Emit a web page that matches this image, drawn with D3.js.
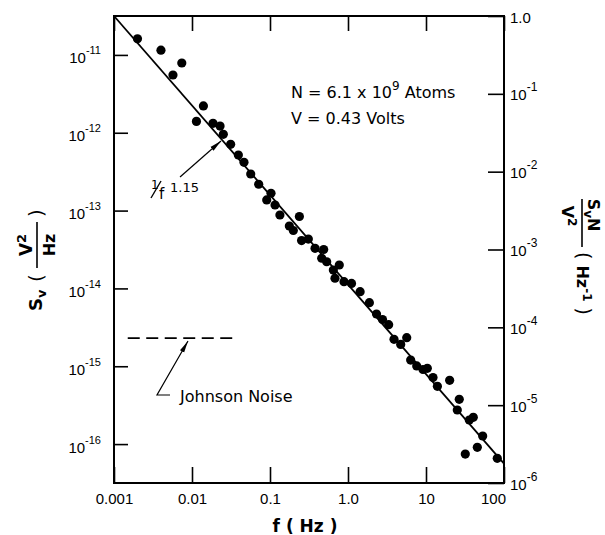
<!DOCTYPE html>
<html lang="en">
<head>
<meta charset="UTF-8">
<title>Sv vs f</title>
<script src="https://cdn.jsdelivr.net/npm/d3@7"></script>
<style>
  body { margin: 0; background: #fff; }
  svg { font-family: "DejaVu Sans", "Liberation Sans", sans-serif; }
  .axis path { display: none; }
  .axis line { stroke: #000; stroke-width: 1.6; }
  .axis text { fill: #000; }
  .lbl { fill: #000; }
</style>
</head>
<body>
<script>
// measured points: frequency (Hz) and S_V (V^2/Hz)
var freq = [0.0020, 0.0040, 0.0074, 0.0057, 0.0140, 0.0114, 0.0186, 0.0229, 0.0252, 0.0313,
            0.0393, 0.0464, 0.0566, 0.0716, 0.103, 0.0908, 0.116, 0.134, 0.238, 0.177,
            0.199, 0.254, 0.310, 0.378, 0.488, 0.460, 0.533, 0.773, 0.649, 0.681,
            0.889, 1.11, 1.43, 1.88, 2.32, 2.77, 3.32, 3.89, 5.66, 4.74,
            6.36, 7.60, 9.16, 10.4, 12.3, 14.0, 20.1, 26.7, 25.2, 35.9,
            40.4, 53.3, 45.5, 31.9, 82.0];
var sv = [1.61e-11, 1.15e-11, 7.87e-12, 5.52e-12, 2.21e-12, 1.40e-12, 1.32e-12, 1.22e-12, 9.55e-13, 7.11e-13,
          5.18e-13, 4.17e-13, 2.95e-13, 2.18e-13, 1.67e-13, 1.37e-13, 1.18e-13, 8.77e-14, 8.39e-14, 6.34e-14,
          5.55e-14, 4.12e-14, 4.31e-14, 3.27e-14, 3.16e-14, 2.44e-14, 2.20e-14, 2.00e-14, 1.72e-14, 1.35e-14,
          1.22e-14, 1.16e-14, 9.08e-15, 6.55e-15, 4.69e-15, 3.98e-15, 3.42e-15, 2.22e-15, 2.33e-15, 1.91e-15,
          1.20e-15, 1.01e-15, 9.08e-16, 9.40e-16, 7.16e-16, 5.52e-16, 6.59e-16, 3.76e-16, 2.74e-16, 2.04e-16,
          2.21e-16, 1.27e-16, 9.08e-17, 7.45e-17, 6.56e-17];

// fit line Sv = A / f^1.15
var fitAmp = 1.122e-14;
var fitExp = 1.15;
var fitFreq = [0.001, 100];

// Johnson noise level
var johnsonLevel = 2.3e-15;
var johnsonFreq = [0.0015, 0.035];

var xTicks = [0.001, 0.01, 0.1, 1, 10, 100];
var xTickLabels = ["0.001", "0.01", "0.1", "1.0", "10", "100"];
var leftTicks = [1e-11, 1e-12, 1e-13, 1e-14, 1e-15, 1e-16];
var leftExp = ["-11", "-12", "-13", "-14", "-15", "-16"];
var rightTicks = [1, 1e-1, 1e-2, 1e-3, 1e-4, 1e-5, 1e-6];
var rightExp = ["", "-1", "-2", "-3", "-4", "-5", "-6"];

var W = 605, H = 535;
var L = 114, R = 504, T = 16, B = 483;

var x = d3.scaleLog().domain([0.001, 100]).range([L, R]);
var y = d3.scaleLog().domain([Math.pow(10, -16.5), Math.pow(10, -10.5)]).range([B, T]);
var yR = d3.scaleLog().domain([1e-6, 1]).range([B, T]);

var svg = d3.select("body").append("svg")
  .attr("width", W)
  .attr("height", H);

var defs = svg.append("defs");
defs.append("marker")
  .attr("id", "arrow")
  .attr("viewBox", "0 0 12 6")
  .attr("refX", 12).attr("refY", 3)
  .attr("markerWidth", 12).attr("markerHeight", 6)
  .attr("markerUnits", "userSpaceOnUse")
  .attr("orient", "auto")
  .append("path")
  .attr("d", "M0,0.6 L12,3 L0,5.4 Z")
  .attr("fill", "#000");

// axes
var gx = svg.append("g").attr("class", "axis")
  .attr("transform", "translate(0," + B + ")")
  .call(d3.axisBottom(x).tickValues(xTicks).tickSizeInner(-16).tickSizeOuter(0)
    .tickPadding(10).tickFormat(function(d, i) { return xTickLabels[i]; }));
gx.selectAll("text")
  .style("font-size", "15px")
  .attr("dx", function(d, i) { return i === xTicks.length - 1 ? -11 : 0; });

svg.append("g").attr("class", "axis")
  .attr("transform", "translate(0," + T + ")")
  .call(d3.axisTop(x).tickValues(xTicks).tickSizeInner(-15).tickSizeOuter(0).tickFormat(""));

var gl = svg.append("g").attr("class", "axis")
  .attr("transform", "translate(" + L + ",0)")
  .call(d3.axisLeft(y).tickValues(leftTicks).tickSizeInner(-14).tickSizeOuter(0)
    .tickPadding(13).tickFormat(function() { return "10"; }));
gl.selectAll("text")
  .attr("dy", 8)
  .style("font-size", "15px")
  .each(function(d, i) {
    d3.select(this).append("tspan")
      .attr("dy", -9)
      .style("font-size", "11px")
      .text(leftExp[i]);
  });

var gr = svg.append("g").attr("class", "axis")
  .attr("transform", "translate(" + R + ",0)")
  .call(d3.axisRight(yR).tickValues(rightTicks).tickSizeInner(-16).tickSizeOuter(0)
    .tickPadding(6).tickFormat(function(d, i) { return i === 0 ? "1.0" : "10"; }));
gr.selectAll("text")
  .attr("dy", 6)
  .style("font-size", "15px")
  .each(function(d, i) {
    if (rightExp[i]) {
      d3.select(this).append("tspan")
        .attr("dy", -9)
        .style("font-size", "12px")
        .text(rightExp[i]);
    }
  });

// frame
svg.append("rect")
  .attr("x", L).attr("y", T)
  .attr("width", R - L).attr("height", B - T)
  .attr("fill", "none")
  .attr("stroke", "#000")
  .attr("stroke-width", 2);

// fit line
svg.append("path")
  .datum(fitFreq)
  .attr("fill", "none")
  .attr("stroke", "#000")
  .attr("stroke-width", 1.8)
  .attr("d", d3.line()
    .x(function(f) { return x(f); })
    .y(function(f) { return y(fitAmp * Math.pow(f, -fitExp)); }));

// Johnson noise level
svg.append("path")
  .datum(johnsonFreq)
  .attr("fill", "none")
  .attr("stroke", "#000")
  .attr("stroke-width", 1.6)
  .attr("stroke-dasharray", "12,6.5")
  .attr("d", d3.line()
    .x(function(f) { return x(f); })
    .y(function() { return y(johnsonLevel); }));

// data points
svg.append("g").selectAll("circle")
  .data(freq)
  .enter().append("circle")
  .attr("cx", function(f) { return x(f); })
  .attr("cy", function(f, i) { return y(sv[i]); })
  .attr("r", 4.6)
  .attr("fill", "#000");

// annotations
var t1 = svg.append("text").attr("class", "lbl")
  .attr("x", 291).attr("y", 98).style("font-size", "16px");
t1.append("tspan").text("N = 6.1  x 10");
t1.append("tspan").attr("dy", -8).style("font-size", "12px").text("9");
t1.append("tspan").attr("dy", 8).text(" Atoms");

svg.append("text").attr("class", "lbl")
  .attr("x", 291).attr("y", 124).style("font-size", "16px")
  .text("V = 0.43 Volts");

// 1/f^1.15 label, slash drawn as a stroke
svg.append("text").attr("class", "lbl")
  .attr("x", 151).attr("y", 189).style("font-size", "12px").text("1");
svg.append("line")
  .attr("x1", 151).attr("y1", 198).attr("x2", 161).attr("y2", 181)
  .attr("stroke", "#000").attr("stroke-width", 1.4);
svg.append("text").attr("class", "lbl")
  .attr("x", 159).attr("y", 199).style("font-size", "15px").text("f");
svg.append("text").attr("class", "lbl")
  .attr("x", 170).attr("y", 192).style("font-size", "13px").text("1.15");

svg.append("line")
  .attr("x1", 180).attr("y1", 177)
  .attr("x2", 221).attr("y2", 141)
  .attr("stroke", "#000").attr("stroke-width", 1.2)
  .attr("marker-end", "url(#arrow)");

svg.append("path")
  .attr("d", "M170,395 L157,395 L188,341")
  .attr("fill", "none")
  .attr("stroke", "#000").attr("stroke-width", 1.2)
  .attr("marker-end", "url(#arrow)");

svg.append("text").attr("class", "lbl")
  .attr("x", 180).attr("y", 402).style("font-size", "16px")
  .text("Johnson Noise");

// x title
svg.append("text").attr("class", "lbl")
  .attr("x", 305).attr("y", 532)
  .attr("text-anchor", "middle")
  .style("font-size", "17px").style("font-weight", "bold")
  .text("f ( Hz )");

// left title, rotated
var lt = svg.append("g").attr("transform", "translate(37,245) rotate(-90)")
  .style("font-weight", "bold");
var s1 = lt.append("text").attr("class", "lbl").attr("x", -66).attr("y", 5).style("font-size", "18px");
s1.append("tspan").text("S");
s1.append("tspan").attr("dy", 4).style("font-size", "13px").text("v");
lt.append("text").attr("class", "lbl").attr("x", -37).attr("y", 6).style("font-size", "20px")
  .style("font-weight", "normal").text("(");
lt.append("line").attr("x1", -23).attr("x2", 23).attr("y1", 0).attr("y2", 0)
  .attr("stroke", "#000").attr("stroke-width", 1.6);
var v2 = lt.append("text").attr("class", "lbl").attr("x", 0).attr("y", -5)
  .attr("text-anchor", "middle").style("font-size", "17px");
v2.append("tspan").text("V");
v2.append("tspan").attr("dy", -6).style("font-size", "13px").text("2");
lt.append("text").attr("class", "lbl").attr("x", 0).attr("y", 18)
  .attr("text-anchor", "middle").style("font-size", "16px").text("Hz");
lt.append("text").attr("class", "lbl").attr("x", 28).attr("y", 6).style("font-size", "20px")
  .style("font-weight", "normal").text(")");

// right title, rotated
var rt = svg.append("g").attr("transform", "translate(582,225) rotate(90)")
  .style("font-weight", "bold");
rt.append("line").attr("x1", -26).attr("x2", 22).attr("y1", 0).attr("y2", 0)
  .attr("stroke", "#000").attr("stroke-width", 1.6);
var num = rt.append("text").attr("class", "lbl").attr("x", -10).attr("y", -6)
  .attr("text-anchor", "middle").style("font-size", "16px");
num.append("tspan").text("S");
num.append("tspan").attr("dy", 4).style("font-size", "12px").text("v");
num.append("tspan").attr("dy", -4).text("N");
var den = rt.append("text").attr("class", "lbl").attr("x", -9).attr("y", 20)
  .attr("text-anchor", "middle").style("font-size", "16px");
den.append("tspan").text("V");
den.append("tspan").attr("dy", -6).style("font-size", "12px").text("2");
var hz = rt.append("text").attr("class", "lbl").attr("x", 27).attr("y", 5).style("font-size", "16px");
hz.append("tspan").style("font-weight", "normal").style("font-size", "19px").text("( ");
hz.append("tspan").text("Hz");
hz.append("tspan").attr("dy", -6).style("font-size", "12px").text("-1");
hz.append("tspan").attr("dy", 6).style("font-weight", "normal").style("font-size", "19px").text(" )");
</script>
</body>
</html>
